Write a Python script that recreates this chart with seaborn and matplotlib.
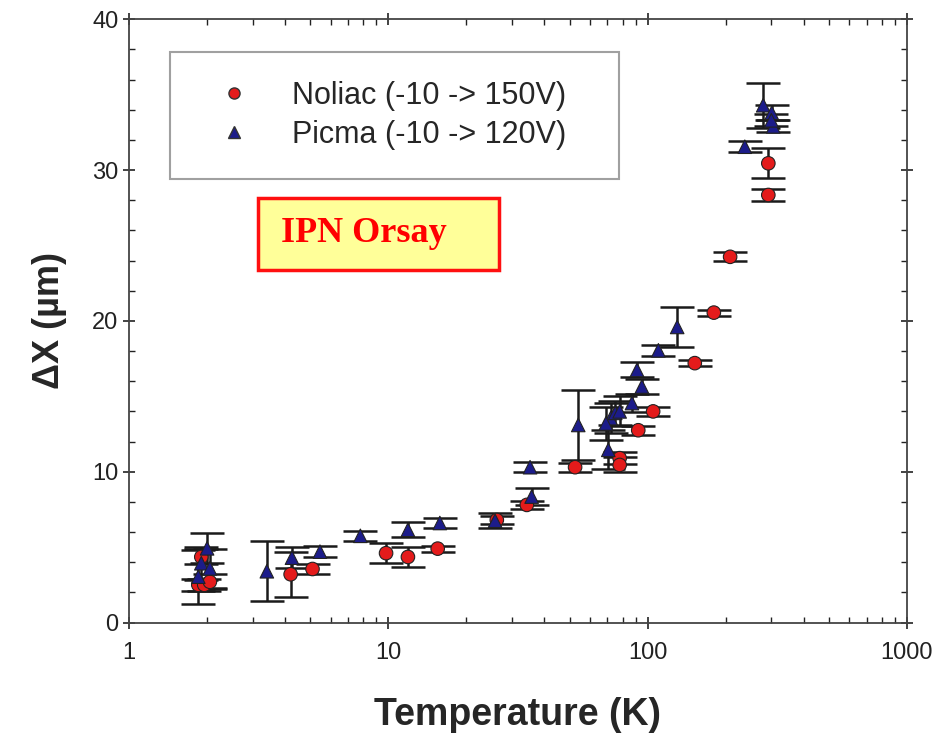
import numpy as np
import pandas as pd
import seaborn as sns
import matplotlib
matplotlib.use("Agg")
import matplotlib.pyplot as plt
from matplotlib.lines import Line2D
from matplotlib.patches import Rectangle
from matplotlib.ticker import MultipleLocator, LogLocator, NullFormatter

sns.set_style("ticks")
plt.rcParams['font.family'] = ['Liberation Sans', 'DejaVu Sans']

# Noliac (-10 -> 150V), red circles
noliac_T = [1.85, 1.9, 1.95, 2.05, 4.2, 5.1, 9.8, 11.9, 15.5, 26.2, 34.2, 52.5,
            78, 78, 92, 105, 152, 180, 208, 292, 292]
noliac_dx = [2.5, 4.35, 2.5, 2.7, 3.2, 3.55, 4.6, 4.35, 4.9, 6.8, 7.8, 10.3,
             10.9, 10.45, 12.75, 14.0, 17.2, 20.55, 24.25, 30.45, 28.35]
noliac_err = [0.4, 0.5, 0.4, 0.5, 1.5, 0.3, 0.65, 0.65, 0.2, 0.25, 0.25, 0.3,
              0.4, 0.5, 0.3, 0.3, 0.2, 0.2, 0.3, 1.0, 0.4]

# Picma (-10 -> 120V), blue triangles
picma_T = [1.85, 1.9, 2.0, 2.05, 3.4, 4.25, 5.45, 7.8, 11.9, 15.8, 25.8, 35.7,
           35.2, 54, 70.5, 72, 75, 69, 78, 87, 91, 95, 110, 130, 237, 279, 301, 305, 300]
picma_dx = [3.04, 3.93, 4.92, 3.59, 3.4, 4.3, 4.7, 5.75, 6.15, 6.6, 6.75, 8.35,
            10.3, 13.1, 11.45, 13.55, 13.9, 13.2, 14.0, 14.55, 16.75, 15.65, 18.05, 19.6,
            31.55, 34.3, 33.8, 32.9, 33.3]
picma_err = [1.8, 1.1, 1.0, 1.3, 2.0, 0.7, 0.35, 0.35, 0.5, 0.35, 0.5, 0.55,
             0.35, 2.3, 1.3, 1.0, 0.8, 1.1, 1.0, 0.6, 0.5, 0.5, 0.35, 1.3,
             0.35, 1.5, 0.5, 0.4, 0.4]

labels = ['Noliac (-10 -> 150V)', 'Picma (-10 -> 120V)']
colors = ['#e41b1b', '#1c1c8a']

df = pd.concat([
    pd.DataFrame({'T': noliac_T, 'dx': noliac_dx, 'err': noliac_err, 'type': labels[0]}),
    pd.DataFrame({'T': picma_T, 'dx': picma_dx, 'err': picma_err, 'type': labels[1]}),
], ignore_index=True)

fig = plt.figure(figsize=(9.35, 7.33), dpi=100)
ax = fig.add_axes([0.138, 0.1507, 0.832, 0.823])

# error bars first, markers on top
for lab in labels:
    d = df[df['type'] == lab]
    ax.errorbar(d['T'], d['dx'], yerr=d['err'], fmt='none', ecolor='#1a1a1a',
                elinewidth=1.8, capsize=12, capthick=1.8, zorder=2)

sns.scatterplot(data=df, x='T', y='dx', hue='type', style='type',
                palette=dict(zip(labels, colors)), markers={labels[0]: 'o', labels[1]: '^'},
                s=95, edgecolor='#222222', linewidth=0.8, legend=False, ax=ax, zorder=3)

ax.set_xscale('log')
ax.set_xlim(1, 1000)
ax.set_ylim(0, 40)
ax.set_xticks([1, 10, 100, 1000])
ax.set_xticklabels(['1', '10', '100', '1000'])
ax.xaxis.set_minor_locator(LogLocator(base=10, subs=np.arange(2, 10)))
ax.xaxis.set_minor_formatter(NullFormatter())
ax.yaxis.set_major_locator(MultipleLocator(10))
ax.yaxis.set_minor_locator(MultipleLocator(2))

ax.tick_params(axis='both', which='major', labelsize=17, length=8, width=1.2,
               direction='inout', top=True, right=True, colors='#222222')
ax.tick_params(axis='both', which='minor', length=4, width=1.0,
               direction='in', top=True, right=True, color='#222222')
ax.tick_params(axis='x', which='major', pad=10)
for sp in ax.spines.values():
    sp.set_linewidth(1.3)
    sp.set_color('#444444')

ax.set_xlabel('Temperature (K)', fontsize=27, fontweight='bold', labelpad=24)
ax.set_ylabel('ΔX (µm)', fontsize=26, fontweight='bold', labelpad=18)

handles = [Line2D([], [], marker='o', linestyle='none', markersize=8,
                  markerfacecolor=colors[0], markeredgecolor='#333333'),
           Line2D([], [], marker='^', linestyle='none', markersize=8,
                  markerfacecolor=colors[1], markeredgecolor='#333333')]
leg = ax.legend(handles, labels, loc='upper left', bbox_to_anchor=(0.053, 0.846, 0.577, 0.1),
                mode='expand', fontsize=22, frameon=True, fancybox=False,
                edgecolor='#888888', borderpad=0.95, labelspacing=0.3,
                handletextpad=0.74, borderaxespad=0, handlelength=2.3)
leg.get_frame().set_linewidth(1.5)

# "IPN Orsay" label box
ax.add_patch(Rectangle((0.166, 0.585), 0.31, 0.118, transform=ax.transAxes,
                       facecolor='#ffff99', edgecolor='#ff1010', linewidth=2.5, zorder=4))
ax.text(0.195, 0.645, 'IPN Orsay', transform=ax.transAxes, fontsize=26,
        fontweight='bold', color='#ff0000', family=['Liberation Serif', 'DejaVu Serif'],
        va='center', ha='left', zorder=5)

fig.savefig('out.png', dpi=100)
